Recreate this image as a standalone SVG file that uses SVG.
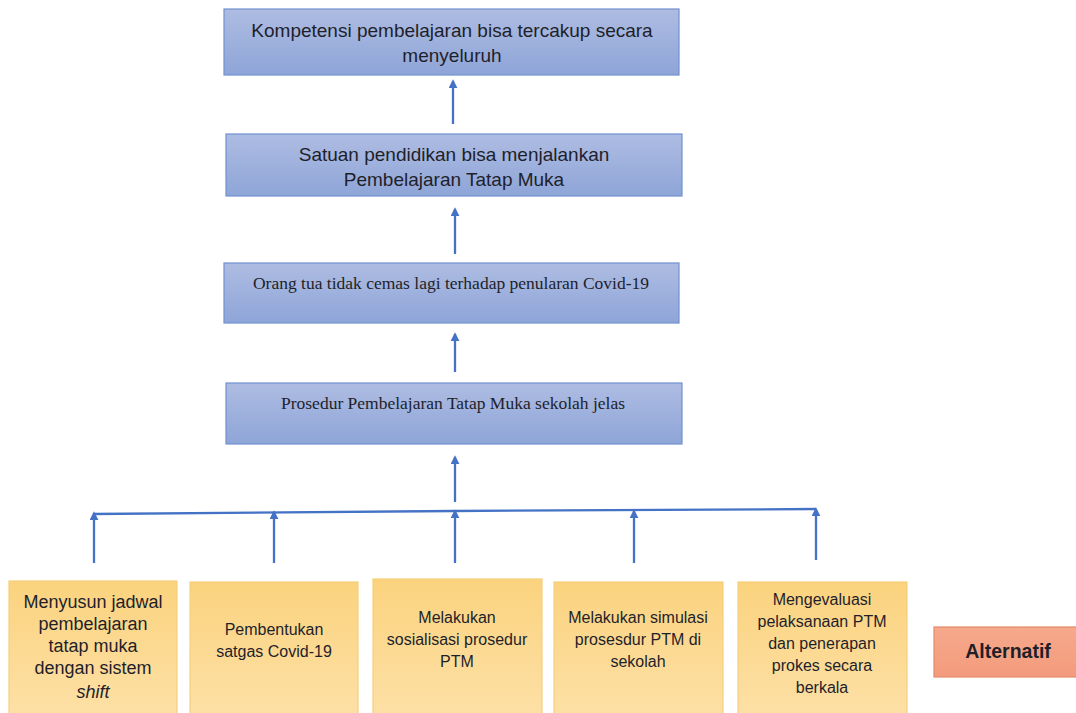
<svg xmlns="http://www.w3.org/2000/svg" width="1076" height="713" viewBox="0 0 1076 713">
<defs>
<linearGradient id="gb" x1="0" y1="0" x2="0" y2="1"><stop offset="0" stop-color="#aebce2"/><stop offset="1" stop-color="#8ea5d8"/></linearGradient>
<linearGradient id="go" x1="0" y1="0" x2="0" y2="1"><stop offset="0" stop-color="#fbd37e"/><stop offset="1" stop-color="#fde0a6"/></linearGradient>
<linearGradient id="gr" x1="0" y1="0" x2="0" y2="1"><stop offset="0" stop-color="#f6a98c"/><stop offset="1" stop-color="#f39b7c"/></linearGradient>
<marker id="ah" viewBox="0 0 10 10" refX="8" refY="5" markerWidth="9" markerHeight="9" markerUnits="userSpaceOnUse" orient="auto"><path d="M0,0 L10,5 L0,10 Z" fill="#4472c4"/></marker>
</defs>
<style>
.blue{fill:url(#gb);stroke:#7191d0;stroke-width:1.2}
.orange{fill:url(#go);stroke:#f5cf7a;stroke-width:1.2}
.alt{fill:url(#gr);stroke:#e58a6a;stroke-width:1.2}
.sans{font-family:"Liberation Sans",Arial,sans-serif;fill:#1f1f2a;text-anchor:middle}
.serif{font-family:"Liberation Serif","Times New Roman",serif;fill:#1f1f2a;text-anchor:middle;font-size:17.5px}
.b{font-size:19px}
.s{font-size:16px}
.conn line,.conn path{stroke:#4472c4;stroke-width:2.3;fill:none}
</style>
<rect width="1076" height="713" fill="#ffffff"/>
<g id="n1"><rect class="blue" x="224" y="9" width="455" height="66"/><text class="sans b" x="452" y="37">Kompetensi pembelajaran bisa tercakup secara</text><text class="sans b" x="452" y="62">menyeluruh</text></g>
<g id="n2"><rect class="blue" x="226" y="134" width="456" height="62"/><text class="sans b" x="454" y="161">Satuan pendidikan bisa menjalankan</text><text class="sans b" x="454" y="186">Pembelajaran Tatap Muka</text></g>
<g id="n3"><rect class="blue" x="224" y="263" width="455" height="60"/><text class="serif" x="451" y="289">Orang tua tidak cemas lagi terhadap penularan Covid-19</text></g>
<g id="n4"><rect class="blue" x="226" y="383" width="456" height="61"/><text class="serif" x="453" y="409">Prosedur Pembelajaran Tatap Muka sekolah jelas</text></g>
<g id="a1"><rect class="orange" x="9" y="581" width="168" height="134"/><text class="sans" font-size="18"><tspan x="93" y="608">Menyusun jadwal</tspan><tspan x="93" y="630">pembelajaran</tspan><tspan x="93" y="652">tatap muka</tspan><tspan x="93" y="674">dengan sistem</tspan><tspan x="93" y="698" font-style="italic">shift</tspan></text></g>
<g id="a2"><rect class="orange" x="190" y="582" width="168" height="133"/><text class="sans s"><tspan x="274" y="635">Pembentukan</tspan><tspan x="274" y="657">satgas Covid-19</tspan></text></g>
<g id="a3"><rect class="orange" x="373" y="579" width="169" height="136"/><text class="sans s"><tspan x="457" y="623">Melakukan</tspan><tspan x="457" y="645">sosialisasi prosedur</tspan><tspan x="457" y="667">PTM</tspan></text></g>
<g id="a4"><rect class="orange" x="554" y="582" width="169" height="133"/><text class="sans s"><tspan x="638" y="623">Melakukan simulasi</tspan><tspan x="638" y="645">prosesdur PTM di</tspan><tspan x="638" y="667">sekolah</tspan></text></g>
<g id="a5"><rect class="orange" x="738" y="582" width="169" height="133"/><text class="sans s"><tspan x="822" y="605">Mengevaluasi</tspan><tspan x="822" y="627">pelaksanaan PTM</tspan><tspan x="822" y="649">dan penerapan</tspan><tspan x="822" y="671">prokes secara</tspan><tspan x="822" y="693">berkala</tspan></text></g>
<g id="alt"><rect class="alt" x="934" y="627" width="145" height="50"/><text class="sans" x="1008" y="658" font-size="19.5" font-weight="bold">Alternatif</text></g>
<g class="conn">
<line x1="453" y1="124" x2="453" y2="81" marker-end="url(#ah)"/>
<line x1="455" y1="254" x2="455" y2="209" marker-end="url(#ah)"/>
<line x1="455" y1="372" x2="455" y2="334" marker-end="url(#ah)"/>
<line x1="455" y1="502" x2="455" y2="457" marker-end="url(#ah)"/>
<path d="M94,514 L454,511 L816,509"/>
<line x1="94" y1="563" x2="94" y2="513" marker-end="url(#ah)"/>
<line x1="274" y1="563" x2="274" y2="512" marker-end="url(#ah)"/>
<line x1="455" y1="563" x2="455" y2="511" marker-end="url(#ah)"/>
<line x1="634" y1="563" x2="634" y2="511" marker-end="url(#ah)"/>
<line x1="816" y1="560" x2="816" y2="509" marker-end="url(#ah)"/>
</g>
</svg>
